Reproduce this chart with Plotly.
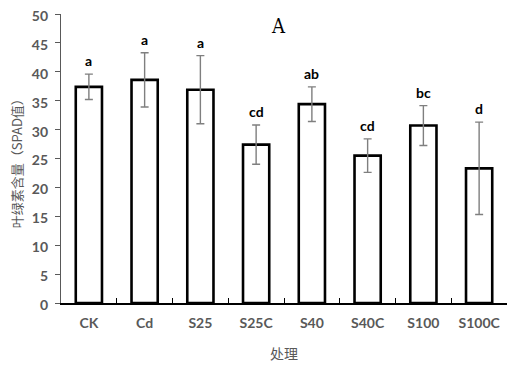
import plotly.graph_objects as go

categories = ["CK", "Cd", "S25", "S25C", "S40", "S40C", "S100", "S100C"]
means = [37.4, 38.6, 36.9, 27.4, 34.4, 25.5, 30.7, 23.3]
errors = [2.2, 4.7, 5.9, 3.4, 3.0, 2.9, 3.45, 8.0]
letters = ["a", "a", "a", "cd", "ab", "cd", "bc", "d"]
y_ticks = [0, 5, 10, 15, 20, 25, 30, 35, 40, 45, 50]

GRAY = "#595959"
TICKFONT = dict(family="Lato, 'Open Sans', sans-serif", size=14, color=GRAY, weight="bold")

fig = go.Figure()
fig.add_trace(go.Bar(
    x=categories, y=means,
    width=0.47,
    marker=dict(color="white", line=dict(color="black", width=2.6)),
    error_y=dict(type="data", array=errors, visible=True,
                 color="#7f7f7f", thickness=1.4, width=4),
    showlegend=False,
))

for c, m, e, l in zip(categories, means, errors, letters):
    fig.add_annotation(x=c, y=m + e, text=l, showarrow=False,
                       yanchor="bottom", yshift=3,
                       font=dict(family="Lato, 'Open Sans', sans-serif", size=14,
                                 color="black", weight="bold"))

fig.add_annotation(xref="paper", yref="paper", x=0.488, y=0.96, text="A",
                   showarrow=False, xanchor="center", yanchor="middle",
                   font=dict(family="'DejaVu Serif Condensed', 'Liberation Serif', serif",
                             size=20, color="black"))

fig.add_annotation(xref="paper", yref="paper", x=-0.098, y=0.495,
                   text="叶绿素含量（SPAD值）", showarrow=False, textangle=-90,
                   xanchor="center", yanchor="middle",
                   font=dict(family="'Noto Sans CJK SC', sans-serif", size=13, color=GRAY))

# page body has an 8px default margin, so the figure is offset by 8px
fig.update_layout(
    width=507, height=362,
    margin=dict(l=53, r=8, t=6, b=67, autoexpand=False),
    paper_bgcolor="white", plot_bgcolor="white",
    bargap=0.53,
    xaxis=dict(
        automargin=False,
        showline=True, linecolor="black", linewidth=1.5,
        ticks="inside", tickson="boundaries", ticklen=5, tickcolor="black", tickwidth=1.3,
        tickfont=TICKFONT, showgrid=False, ticklabelstandoff=6,
        title=dict(text="处理", font=dict(family="'Noto Sans CJK SC', sans-serif", size=14, color=GRAY), standoff=20),
    ),
    yaxis=dict(
        automargin=False,
        range=[0, 50], tickvals=y_ticks,
        showline=True, linecolor=GRAY, linewidth=1.3,
        ticks="outside", ticklen=5, tickcolor=GRAY, tickwidth=1.2,
        tickfont=TICKFONT, showgrid=False, zeroline=False,
        ticklabeloverflow="allow", ticklabelstandoff=4, ticklabelshift=2,
    ),
)

fig.write_html("out.html")
